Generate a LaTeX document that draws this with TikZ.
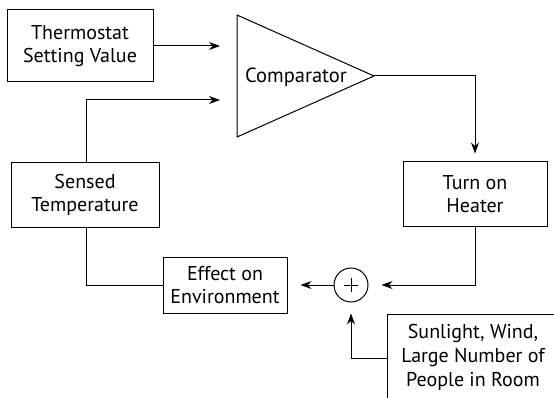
\documentclass[tikz,border=0pt]{standalone}
\usepackage{fontspec}
\setmainfont{PT Sans}
\usetikzlibrary{arrows.meta}
\tikzset{
  blk/.style={draw, line width=1pt, inner sep=0pt, align=center,
    font=\fontsize{20}{23.5}\selectfont},
  wire/.style={line width=1pt},
  flow/.style={wire, -{Stealth[length=11pt, width=8pt]}},
}
\begin{document}
\begin{tikzpicture}[x=1pt, y=-1pt]
  \useasboundingbox (0,0) rectangle (554,398);
  \clip (0,0) rectangle (554,398);
  \fill[white] (0,0) rectangle (554,398);

  % blocks
  \node[blk, minimum width=146pt, minimum height=72pt] (setp) at (80,46) {Thermostat\\Setting Value};
  \node[blk, minimum width=148pt, minimum height=64pt] (sens) at (85,195) {Sensed\\Temperature};
  \node[blk, minimum width=144pt, minimum height=64pt] (heat) at (475,194) {Turn on\\Heater};
  \node[blk, minimum width=124pt, minimum height=56pt] (env) at (225,285) {Effect on\\Environment};
  \node[draw, line width=1pt, minimum width=180pt, minimum height=100pt, anchor=north west] (dist) at (387,314) {};
  \node[align=center, font=\fontsize{20}{24}\selectfont, anchor=north] (distTxt) at (473,321) {Sunlight, Wind,\\Large Number of\\People in Room};

  % comparator triangle
  \coordinate (cmpTop) at (237,15);
  \coordinate (cmpBot) at (237,137);
  \coordinate (cmpTip) at (374,76);
  \draw[line width=1pt, line join=miter] (cmpTop) -- (cmpTip) -- (cmpBot) -- cycle;
  \node[font=\fontsize{20.5}{23}\selectfont] (cmp) at (296,77) {Comparator};
  \coordinate (cmpInA) at (237,46);
  \coordinate (cmpInB) at (237,100);

  % summing junction
  \node[draw, circle, line width=1pt, minimum size=34pt, inner sep=0pt] (sum) at (351,285) {};
  \draw[line width=0.6pt] ([xshift=-7pt]sum.center) -- ([xshift=7pt]sum.center)
                          ([yshift=-7pt]sum.center) -- ([yshift=7pt]sum.center);

  % connectors
  \draw[flow, shorten >=17pt] (setp.east) -- (cmpInA);
  \draw[flow, shorten >=17pt] (sens.north -| 86,0) |- (cmpInB);
  \draw[flow, shorten >=8pt] (cmpTip) -| (heat.north);
  \draw[flow, shorten >=13pt] (heat.south) |- (sum.east);
  \draw[flow, shorten >=13pt] (sum.west) -- (env.east);
  \draw[wire] (sens.south -| 86,0) |- (env.west);
  \draw[flow, shorten >=11pt] (dist.west |- 0,358) -| (sum.south);
\end{tikzpicture}
\end{document}
